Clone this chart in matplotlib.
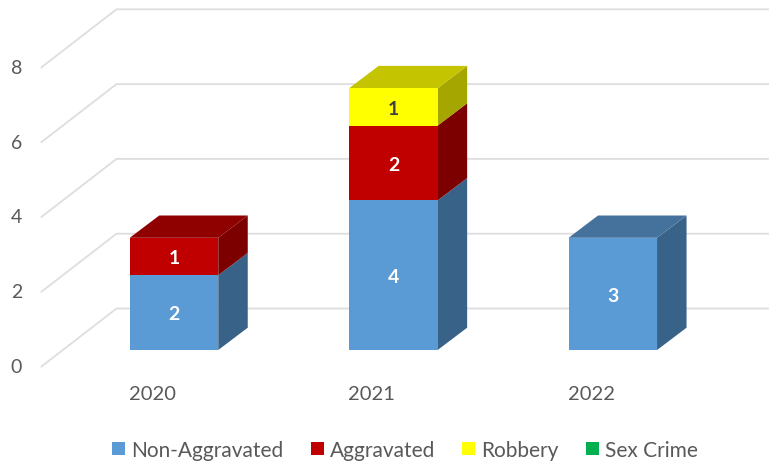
import numpy as np
from matplotlib import pyplot as plt
from matplotlib.patches import Polygon, Rectangle

plt.rcParams['font.family'] = ['Lato', 'DejaVu Sans']

# data
years = ['2020', '2021', '2022']
non_aggravated = [2, 4, 3]
aggravated = [1, 2, 0]
robbery = [0, 1, 0]
sex_crime = [0, 0, 0]
ticks = [0, 2, 4, 6, 8]

series_names = ['Non-Aggravated', 'Aggravated', 'Robbery', 'Sex Crime']
series_values = [non_aggravated, aggravated, robbery, sex_crime]
front_colors = ['#5B9BD5', '#C00000', '#FFFF00', '#00B050']
side_colors = ['#386288', '#7C0000', '#A6A600', '#00783A']
top_colors = ['#44729D', '#8F0000', '#C4C400', '#008C42']
label_colors = ['white', 'white', '#404040', 'white']

# pixel layout of the fake 3d box, converted to data units
W, H = 770, 464
x_unit = 219.4
y_unit = 37.4
x0_px = 174.0
y0_px = 351
bar_w = 88.5 / x_unit
depth_x = 29.5 / x_unit
depth_y = 22.3 / y_unit

fig = plt.figure(figsize=(W / 100, H / 100), dpi=100)
ax = fig.add_axes([0, 0, 1, 1])
ax.set_xlim(-x0_px / x_unit, (W - x0_px) / x_unit)
ax.set_ylim(-(H - y0_px) / y_unit, y0_px / y_unit)
ax.axis('off')

# gridlines: slanted side wall + back wall
grid_color = '#DEDEDE'
wall_left = (116.5 - x0_px) / x_unit
wall_front = (41.5 - x0_px) / x_unit
wall_right = (768 - x0_px) / x_unit
wall_lift = (351 - 309.5) / y_unit
front_drop = (367.5 - 351) / y_unit
for t in ticks:
    ax.plot([wall_front, wall_left, wall_right],
            [t - front_drop, t + wall_lift, t + wall_lift],
            color=grid_color, lw=1.3, zorder=1, solid_joinstyle='miter')
    ax.text((16.5 - x0_px) / x_unit, t - front_drop, str(t),
            color='#595959', fontsize=14, ha='center', va='center')

# bars
for i, year in enumerate(years):
    left = i - bar_w / 2
    right = i + bar_w / 2
    bottom = 0
    total = sum(s[i] for s in series_values)
    for k, values in enumerate(series_values):
        v = values[i]
        if v == 0:
            continue
        top = bottom + v
        ax.add_patch(Polygon([(right, bottom), (right + depth_x, bottom + depth_y),
                              (right + depth_x, top + depth_y), (right, top)],
                             facecolor=side_colors[k], edgecolor='none', zorder=3))
        if top == total:
            ax.add_patch(Polygon([(left, top), (left + depth_x, top + depth_y),
                                  (right + depth_x, top + depth_y), (right, top)],
                                 facecolor=top_colors[k], edgecolor='none', zorder=3))
        ax.add_patch(Rectangle((left, bottom), bar_w, v, facecolor=front_colors[k],
                               edgecolor='none', zorder=4))
        ax.text(i, bottom + v / 2 - 0.03, str(v), color=label_colors[k],
                fontsize=14, fontweight='bold', ha='center', va='center', zorder=5)
        bottom = top
    ax.text(i - 21.5 / x_unit, -44 / y_unit, year, color='#595959', fontsize=14.5,
            ha='center', va='center')

handles = [Rectangle((0, 0), 1, 1, facecolor=c, edgecolor='none') for c in front_colors]
fig.legend(handles, series_names, loc='center', bbox_to_anchor=(405 / W, 1 - 451 / H),
           ncol=4, frameon=False, fontsize=15, labelcolor='#595959',
           handlelength=0.62, handleheight=0.62, handletextpad=0.3, columnspacing=1.3)

fig.savefig('out.png', dpi=100)
